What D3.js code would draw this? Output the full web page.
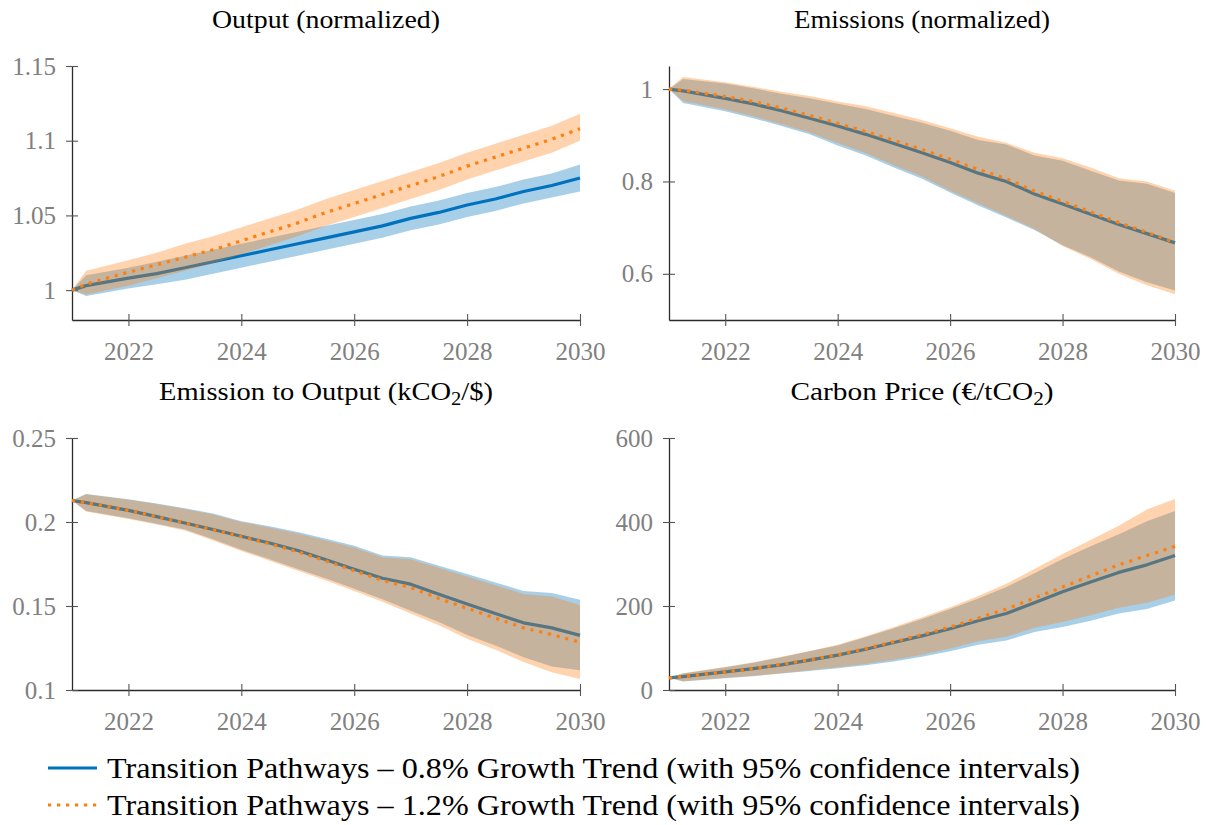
<!DOCTYPE html>
<html>
<head>
<meta charset="utf-8">
<script src="https://cdn.jsdelivr.net/npm/d3@7/dist/d3.min.js"></script>
<style>
  body { margin: 0; background: #fff; }
  svg text { font-family: "Liberation Serif", "DejaVu Serif", serif !important; }
</style>
</head>
<body>
<svg id="chart" width="1207" height="825"></svg>
<script>
/* Data */
// Time points (years)
const years = [2021, 2021.25, 2022, 2022.5, 2023, 2023.5, 2024, 2024.5, 2025, 2025.5,
               2026, 2026.5, 2027, 2027.5, 2028, 2028.5, 2029, 2029.5, 2030]
const xTicks = [2022, 2024, 2026, 2028, 2030]

// Output (normalized)
const outBlue     = [1.000, 1.003, 1.008, 1.011, 1.015, 1.019, 1.023, 1.027, 1.031, 1.035, 1.039, 1.043, 1.048, 1.052, 1.057, 1.061, 1.066, 1.070, 1.075]
const outBlueLo   = [1.000, 0.996, 1.001, 1.004, 1.007, 1.011, 1.015, 1.019, 1.023, 1.027, 1.031, 1.035, 1.040, 1.044, 1.049, 1.053, 1.058, 1.062, 1.066]
const outBlueHi   = [1.000, 1.010, 1.015, 1.019, 1.023, 1.027, 1.031, 1.035, 1.039, 1.043, 1.047, 1.051, 1.056, 1.060, 1.065, 1.069, 1.074, 1.078, 1.084]
const outOrange   = [1.000, 1.004, 1.012, 1.017, 1.022, 1.027, 1.033, 1.039, 1.045, 1.052, 1.058, 1.064, 1.070, 1.076, 1.083, 1.089, 1.095, 1.101, 1.108]
const outOrangeLo = [1.000, 0.997, 1.003, 1.008, 1.013, 1.018, 1.024, 1.030, 1.036, 1.043, 1.049, 1.055, 1.061, 1.067, 1.074, 1.080, 1.086, 1.092, 1.100]
const outOrangeHi = [1.000, 1.013, 1.020, 1.025, 1.031, 1.036, 1.042, 1.048, 1.054, 1.061, 1.067, 1.073, 1.079, 1.085, 1.092, 1.098, 1.104, 1.110, 1.118]
const outTicks = [1, 1.05, 1.1, 1.15]

// Emissions (normalized)
const emiBlue     = [1.000, 0.996, 0.980, 0.968, 0.953, 0.937, 0.920, 0.902, 0.882, 0.862, 0.841, 0.818, 0.800, 0.773, 0.751, 0.729, 0.707, 0.687, 0.667]
const emiBlueLo   = [1.000, 0.970, 0.952, 0.937, 0.920, 0.902, 0.878, 0.856, 0.830, 0.806, 0.776, 0.748, 0.722, 0.695, 0.662, 0.636, 0.605, 0.582, 0.564]
const emiBlueHi   = [1.000, 1.022, 1.012, 1.002, 0.990, 0.980, 0.968, 0.957, 0.942, 0.927, 0.910, 0.890, 0.880, 0.856, 0.845, 0.823, 0.802, 0.795, 0.775]
const emiOrange   = [1.000, 0.998, 0.984, 0.973, 0.959, 0.943, 0.926, 0.908, 0.889, 0.869, 0.848, 0.826, 0.806, 0.779, 0.757, 0.734, 0.711, 0.690, 0.668]
const emiOrangeLo = [1.000, 0.974, 0.956, 0.941, 0.924, 0.906, 0.883, 0.861, 0.835, 0.811, 0.780, 0.752, 0.725, 0.697, 0.660, 0.632, 0.600, 0.575, 0.556]
const emiOrangeHi = [1.000, 1.026, 1.015, 1.005, 0.994, 0.985, 0.973, 0.963, 0.948, 0.933, 0.915, 0.897, 0.884, 0.862, 0.850, 0.830, 0.807, 0.800, 0.780]
const emiTicks = [0.6, 0.8, 1]

// Emission to Output (kCO2/$)
const eoBlue     = [0.2128, 0.2115, 0.2069, 0.2032, 0.1994, 0.1955, 0.1915, 0.1875, 0.1830, 0.1775, 0.1719, 0.1665, 0.1630, 0.1570, 0.1512, 0.1455, 0.1400, 0.1370, 0.1325]
const eoBlueLo   = [0.2128, 0.2066, 0.2022, 0.1990, 0.1955, 0.1897, 0.1835, 0.1778, 0.1720, 0.1663, 0.1603, 0.1540, 0.1472, 0.1405, 0.1328, 0.1265, 0.1195, 0.1140, 0.1118]
const eoBlueHi   = [0.2128, 0.2167, 0.2136, 0.2110, 0.2082, 0.2050, 0.2005, 0.1975, 0.1940, 0.1900, 0.1858, 0.1800, 0.1790, 0.1740, 0.1690, 0.1640, 0.1590, 0.1578, 0.1537]
const eoOrange   = [0.2128, 0.2115, 0.2069, 0.2032, 0.1993, 0.1953, 0.1912, 0.1870, 0.1822, 0.1768, 0.1710, 0.1652, 0.1610, 0.1545, 0.1486, 0.1428, 0.1370, 0.1330, 0.1285]
const eoOrangeLo = [0.2128, 0.2063, 0.2018, 0.1985, 0.1950, 0.1890, 0.1828, 0.1770, 0.1710, 0.1652, 0.1590, 0.1525, 0.1455, 0.1385, 0.1305, 0.1240, 0.1167, 0.1105, 0.1065]
const eoOrangeHi = [0.2128, 0.2165, 0.2133, 0.2107, 0.2078, 0.2045, 0.2000, 0.1968, 0.1932, 0.1890, 0.1848, 0.1790, 0.1778, 0.1727, 0.1675, 0.1624, 0.1572, 0.1556, 0.1506]
const eoTicks = [0.1, 0.15, 0.2, 0.25]

// Carbon Price (EUR/tCO2)
const cpBlue     = [29, 32, 43, 51, 60, 71, 83, 97, 113, 129, 146, 165, 182, 208, 234, 257, 280, 298, 320]
const cpBlueLo   = [29, 20, 28, 33, 39, 45, 52, 59, 68, 79, 92, 108, 118, 138, 150, 165, 182, 193, 213]
const cpBlueHi   = [29, 39, 54, 65, 78, 92, 106, 126, 147, 169, 193, 218, 245, 278, 312, 342, 371, 402, 426]
const cpOrange   = [29, 32, 43, 51, 61, 72, 84, 99, 115, 132, 150, 171, 193, 219, 245, 272, 298, 320, 342]
const cpOrangeLo = [29, 21, 29, 34, 40, 47, 54, 62, 72, 84, 99, 116, 127, 148, 162, 178, 196, 208, 227]
const cpOrangeHi = [29, 40, 55, 66, 79, 93, 108, 128, 150, 173, 197, 224, 253, 288, 324, 357, 391, 430, 455]
const cpTicks = [0, 200, 400, 600]

// Legend labels
const legendLabels = [
    "Transition Pathways \u2013 0.8% Growth Trend (with 95% confidence intervals)",
    "Transition Pathways \u2013 1.2% Growth Trend (with 95% confidence intervals)"
]


/* Style */
const BLUE = "#0072bd"
const ORANGE = "#ff7f0e"
const BAND_OPACITY = 0.34
const FONT = "'Liberation Serif', 'DejaVu Serif', serif"

const panels = [
    { title: ["Output (normalized)"], titleLen: 228,
      left: 72, right: 580, top: 66, bottom: 320, domain: [0.98, 1.15], ticks: outTicks,
      blue: [outBlue, outBlueLo, outBlueHi], orange: [outOrange, outOrangeLo, outOrangeHi] },
    { title: ["Emissions (normalized)"], titleLen: 256,
      left: 669, right: 1175, top: 66, bottom: 320, domain: [0.5, 1.05], ticks: emiTicks,
      blue: [emiBlue, emiBlueLo, emiBlueHi], orange: [emiOrange, emiOrangeLo, emiOrangeHi] },
    { title: ["Emission to Output (kCO", "2", "/$)"], titleLen: 334,
      left: 72, right: 580, top: 438, bottom: 690, domain: [0.1, 0.25], ticks: eoTicks,
      blue: [eoBlue, eoBlueLo, eoBlueHi], orange: [eoOrange, eoOrangeLo, eoOrangeHi] },
    { title: ["Carbon Price (\u20ac/tCO", "2", ")"], titleLen: 263,
      left: 669, right: 1175, top: 438, bottom: 690, domain: [0, 600], ticks: cpTicks,
      blue: [cpBlue, cpBlueLo, cpBlueHi], orange: [cpOrange, cpOrangeLo, cpOrangeHi] }
]

const svg = d3.select("#chart").attr("font-family", FONT)


/* Drawing */
panels.forEach(p => drawPanel(p))
drawLegend()


function drawPanel(p) {
    const g = svg.append("g")

    const scale_x = d3.scaleLinear().domain([2021, 2030]).range([p.left, p.right])
    const scale_y = d3.scaleLinear().domain(p.domain).range([p.bottom, p.top])

    // Title
    const t = g.append("text")
        .attr("x", (p.left + p.right) / 2)
        .attr("y", p.top - 38)
        .attr("text-anchor", "middle")
        .attr("font-family", FONT)
        .attr("font-size", 25)
        .attr("fill", "#000")
        .attr("textLength", p.titleLen)
        .attr("lengthAdjust", "spacingAndGlyphs")
    t.append("tspan").text(p.title[0])
    if (p.title.length > 1) {
        t.append("tspan").attr("font-size", 18).attr("dy", 5).text(p.title[1])
        t.append("tspan").attr("dy", -5).text(p.title[2])
    }

    // Axes
    const axisX = g.append("g")
        .attr("transform", "translate(0," + p.bottom + ")")
        .call(d3.axisBottom(scale_x).tickValues(xTicks).tickFormat(d => d).tickSizeOuter(0).tickSizeInner(6).tickPadding(10))
    const axisY = g.append("g")
        .attr("transform", "translate(" + p.left + ",0)")
        .call(d3.axisLeft(scale_y).tickValues(p.ticks).tickFormat(d => String(d)).tickSizeOuter(0).tickSizeInner(6).tickPadding(10))

    ;[axisX, axisY].forEach(a => {
        a.attr("font-family", FONT)
        a.select(".domain").attr("stroke", "#2b2b2b").attr("stroke-width", 1.3)
        a.selectAll(".tick text")
            .attr("font-size", 25)
            .attr("fill", "#808080")
        a.selectAll(".tick line").attr("stroke", "#555").attr("stroke-width", 1.1)
    })
    axisX.selectAll(".tick line").attr("y1", -6)
    axisY.selectAll(".tick line").attr("x1", 6)
    axisX.selectAll(".tick text").attr("dy", "0.95em")

    // Bands and lines
    const idx = d3.range(years.length)
    const area = s => d3.area()
        .x(i => scale_x(years[i]))
        .y0(i => scale_y(s[1][i]))
        .y1(i => scale_y(s[2][i]))
    const line = s => d3.line()
        .x(i => scale_x(years[i]))
        .y(i => scale_y(s[0][i]))

    g.append("path").datum(idx)
        .attr("d", area(p.blue))
        .attr("fill", BLUE).attr("fill-opacity", BAND_OPACITY)
    g.append("path").datum(idx)
        .attr("d", line(p.blue))
        .attr("fill", "none").attr("stroke", BLUE).attr("stroke-width", 3.2)
        .attr("stroke-linejoin", "round")
    g.append("path").datum(idx)
        .attr("d", area(p.orange))
        .attr("fill", ORANGE).attr("fill-opacity", BAND_OPACITY)
    g.append("path").datum(idx)
        .attr("d", line(p.orange))
        .attr("fill", "none").attr("stroke", ORANGE).attr("stroke-width", 3.2)
        .attr("stroke-dasharray", "3.2 5.8")
}


function drawLegend() {
    const rows = [
        { y: 768, color: BLUE, dash: null },
        { y: 805, color: ORANGE, dash: "3.2 5.8" }
    ]
    const g = svg.append("g")
    rows.forEach((r, i) => {
        g.append("line")
            .attr("x1", 48).attr("x2", 97)
            .attr("y1", r.y).attr("y2", r.y)
            .attr("stroke", r.color).attr("stroke-width", 3.2)
            .attr("stroke-dasharray", r.dash)
        g.append("text")
            .attr("x", 107).attr("y", r.y + 10)
            .attr("font-family", FONT)
            .attr("font-size", 29)
            .attr("fill", "#000")
            .attr("textLength", 973)
            .attr("lengthAdjust", "spacingAndGlyphs")
            .text(legendLabels[i])
    })
}
</script>
</body>
</html>
